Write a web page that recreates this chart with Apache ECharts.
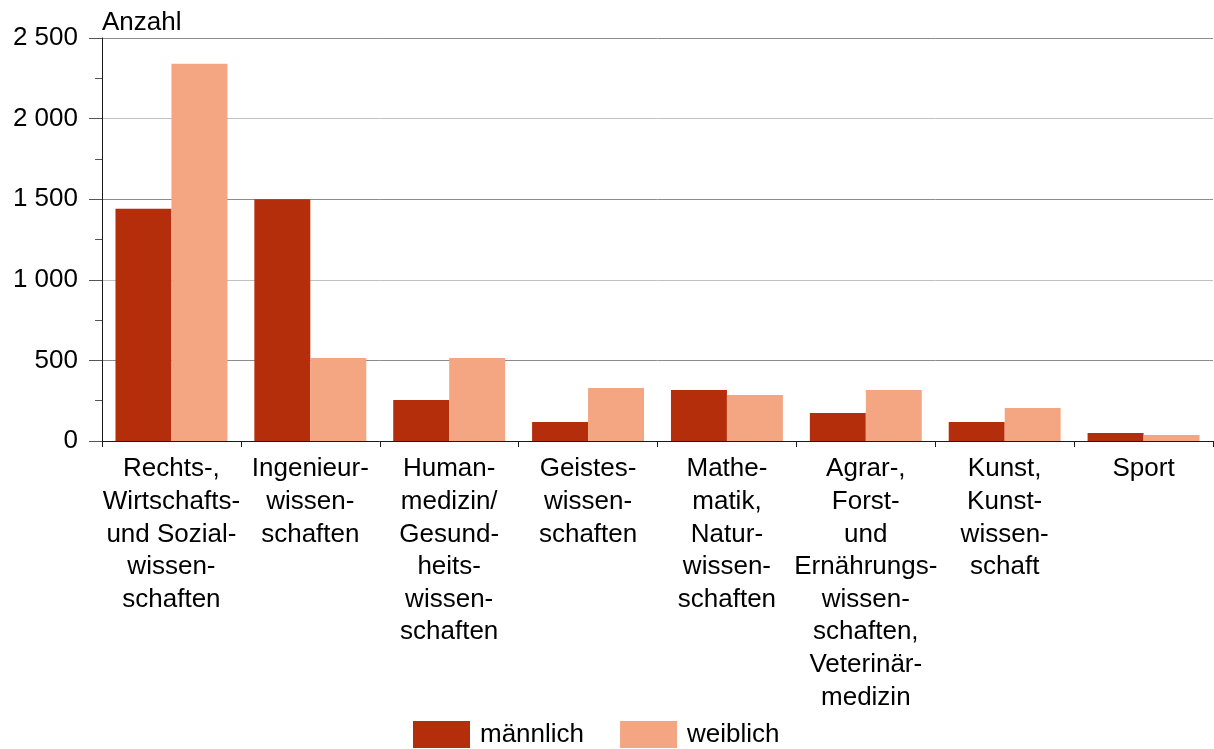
<!DOCTYPE html>
<html>
<head>
<meta charset="utf-8">
<script src="https://cdn.jsdelivr.net/npm/echarts@6/dist/echarts.min.js"></script>
<style>
html,body{margin:0;padding:0;background:#fff;}
#chart{width:1214px;height:749px;}
</style>
</head>
<body>
<div id="chart"></div>
<script>
var categories = [
  'Rechts-,\nWirtschafts-\nund Sozial-\nwissen-\nschaften',
  'Ingenieur-\nwissen-\nschaften',
  'Human-\nmedizin/\nGesund-\nheits-\nwissen-\nschaften',
  'Geistes-\nwissen-\nschaften',
  'Mathe-\nmatik,\nNatur-\nwissen-\nschaften',
  'Agrar-,\nForst-\nund\nErnährungs-\nwissen-\nschaften,\nVeterinär-\nmedizin',
  'Kunst,\nKunst-\nwissen-\nschaft',
  'Sport'
];
var seriesNames = ['männlich', 'weiblich'];
var maleValues = [1440, 1500, 255, 118, 316, 174, 118, 50];
var femaleValues = [2340, 515, 515, 329, 285, 316, 205, 37];
var yTicks = { min: 0, max: 2500, interval: 500 };
var axisName = 'Anzahl';

var FONT = '"Liberation Sans", Arial, sans-serif';
var chart = echarts.init(document.getElementById('chart'), null, { renderer: 'canvas' });

function fmt(v) {
  var s = String(v);
  return s.replace(/\B(?=(\d{3})+(?!\d))/g, ' ');
}

chart.setOption({
  animation: false,
  backgroundColor: '#ffffff',
  textStyle: { fontFamily: FONT },
  grid: { left: 102, right: 1, top: 38, bottom: 308, containLabel: false },
  legend: {
    data: seriesNames,
    left: 408,
    top: 716,
    itemWidth: 57,
    itemHeight: 27,
    itemGap: 36,
    icon: 'rect',
    textStyle: { fontFamily: FONT, fontSize: 26, color: '#000', padding: [0, 0, 0, 5] }
  },
  xAxis: {
    type: 'category',
    data: categories,
    axisLine: { lineStyle: { color: '#1a1a1a', width: 1 } },
    axisTick: { show: true, length: 6, alignWithLabel: false, lineStyle: { color: '#1a1a1a' } },
    axisLabel: {
      interval: 0,
      margin: 12,
      fontFamily: FONT,
      fontSize: 26,
      lineHeight: 32.6,
      color: '#000',
      align: 'center'
    },
    splitLine: { show: false }
  },
  yAxis: {
    type: 'value',
    min: yTicks.min,
    max: yTicks.max,
    interval: yTicks.interval,
    name: axisName,
    nameLocation: 'end',
    nameGap: 2,
    nameTextStyle: { fontFamily: FONT, fontSize: 26, color: '#000', align: 'left', verticalAlign: 'bottom' },
    axisLine: { show: true, lineStyle: { color: '#1a1a1a', width: 1 } },
    axisTick: { show: true, length: 13, lineStyle: { color: '#555' } },
    minorTick: { show: true, splitNumber: 2, length: 7, lineStyle: { color: '#555' } },
    axisLabel: {
      margin: 24,
      fontFamily: FONT,
      fontSize: 26,
      color: '#000',
      formatter: fmt
    },
    splitLine: { show: true, lineStyle: { color: ['#c0c0c0', '#8c8c8c'], width: 1 } }
  },
  series: [
    {
      name: seriesNames[0],
      type: 'bar',
      data: maleValues,
      barGap: '0%',
      barCategoryGap: '19.4%',
      itemStyle: { color: '#b42e0c' }
    },
    {
      name: seriesNames[1],
      type: 'bar',
      data: femaleValues,
      barGap: '0%',
      barCategoryGap: '19.4%',
      itemStyle: { color: '#f4a683' }
    }
  ]
});
</script>
</body>
</html>
